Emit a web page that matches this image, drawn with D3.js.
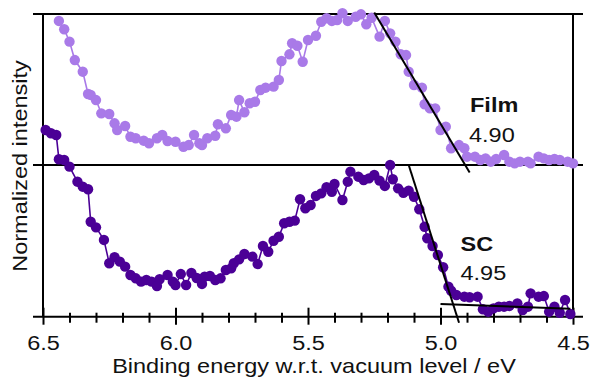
<!DOCTYPE html>
<html><head><meta charset="utf-8">
<script src="https://cdn.jsdelivr.net/npm/d3@7"></script>
<style>body{margin:0;background:#fff}svg{display:block}text{font-family:"Liberation Sans",Arial,sans-serif}</style>
</head><body>
<svg id="c" width="593" height="378"></svg>
<script>
// Film (top panel)
const filmE = [6.44,6.42,6.40,6.38,6.35,6.33,6.32,6.30,6.28,6.25,6.23,6.22,6.19,6.17,6.15,6.12,6.10,6.07,6.05,6.03,6.00,5.97,5.95,5.93,5.91,5.90,5.88,5.85,5.84,5.81,5.79,5.77,5.76,5.74,5.72,5.70,5.68,5.66,5.63,5.61,5.60,5.57,5.56,5.54,5.52,5.50,5.47,5.45,5.43,5.41,5.39,5.37,5.35,5.32,5.30,5.28,5.26,5.23,5.21,5.19,5.17,5.15,5.13,5.12,5.10,5.07,5.06,5.04,5.02,5.00,4.98,4.96,4.93,4.91,4.90,4.87,4.85,4.83,4.81,4.79,4.76,4.74,4.72,4.70,4.67,4.66,4.63,4.61,4.59,4.57,4.55,4.52,4.50];
const filmI = [0.954,0.899,0.817,0.695,0.618,0.470,0.464,0.430,0.342,0.338,0.276,0.232,0.258,0.187,0.177,0.161,0.144,0.177,0.199,0.159,0.154,0.121,0.132,0.199,0.144,0.132,0.177,0.194,0.270,0.243,0.331,0.320,0.430,0.349,0.409,0.419,0.497,0.512,0.519,0.563,0.689,0.733,0.806,0.790,0.684,0.828,0.856,0.949,0.972,0.954,0.960,1.005,0.954,0.982,0.998,0.932,0.975,0.850,0.954,0.872,0.817,0.733,0.728,0.618,0.530,0.512,0.402,0.375,0.375,0.232,0.254,0.111,0.132,0.111,0.055,0.055,0.033,0.044,0.022,0.040,0.066,0.022,0.011,0.022,0.022,0.011,0.055,0.044,0.033,0.040,0.033,0.022,0.011];
// SC (bottom panel)
const scE = [6.49,6.47,6.45,6.44,6.42,6.40,6.37,6.35,6.33,6.32,6.30,6.27,6.25,6.23,6.21,6.19,6.17,6.15,6.13,6.11,6.09,6.07,6.06,6.03,6.01,6.00,5.98,5.96,5.94,5.92,5.90,5.89,5.87,5.85,5.83,5.81,5.79,5.78,5.76,5.74,5.71,5.69,5.67,5.65,5.63,5.61,5.59,5.57,5.55,5.53,5.51,5.49,5.47,5.45,5.43,5.41,5.40,5.37,5.35,5.34,5.31,5.29,5.27,5.25,5.23,5.21,5.19,5.18,5.16,5.14,5.12,5.10,5.08,5.06,5.05,5.03,5.01,4.99,4.97,4.96,4.94,4.91,4.89,4.86,4.84,4.82,4.80,4.78,4.76,4.74,4.71,4.69,4.67,4.66,4.63,4.61,4.59,4.57,4.55,4.53,4.51];
const scI = [1.231,1.209,1.198,1.038,1.033,0.989,0.890,0.857,0.840,0.626,0.589,0.506,0.352,0.392,0.363,0.330,0.275,0.253,0.231,0.242,0.231,0.202,0.247,0.275,0.231,0.209,0.281,0.209,0.288,0.255,0.216,0.264,0.268,0.242,0.253,0.308,0.319,0.352,0.378,0.413,0.396,0.347,0.466,0.428,0.501,0.527,0.616,0.626,0.633,0.774,0.715,0.736,0.796,0.813,0.853,0.824,0.875,0.769,0.890,0.956,0.923,0.901,0.912,0.934,0.897,0.862,1.000,0.906,0.846,0.817,0.831,0.791,0.708,0.593,0.517,0.466,0.407,0.326,0.198,0.171,0.143,0.132,0.128,0.132,0.049,0.033,0.055,0.066,0.066,0.071,0.088,0.044,0.066,0.154,0.132,0.136,0.033,0.066,0.026,0.110,0.018];
// Linear fits
const filmFitE = [5.25, 4.89], filmFitI = [1.01, -0.05];
const scFitE = [5.12, 4.93], scFitI = [1.00, -0.04];
const scBaseE = [5.00, 4.51], scBaseI = [0.084, 0.053];
const majorTicks = [6.5, 6.0, 5.5, 5.0, 4.5];
const tickLabels = ["6.5", "6.0", "5.5", "5.0", "4.5"];
const labels = [{name: "Film", value: "4.90"}, {name: "SC", value: "4.95"}];
const xTitle = "Binding energy w.r.t. vacuum level / eV";
const yTitle = "Normalized intensity";

const svg = d3.select("#c");
const L = 43, R = 573, T = 14, M = 165, B = 316.7;
const x = d3.scaleLinear().domain([6.5, 4.5]).range([L, R]);
const yTop = d3.scaleLinear().domain([0, 1]).range([M, T]);
const yBot = d3.scaleLinear().domain([0, 1]).range([B, M]);
const filmCol = "#a97ae8", scCol = "#4b0096";
const SX = 1.12;

// frame
[T, M, B].forEach(v => svg.append("line").attr("x1", 33).attr("x2", 583).attr("y1", v).attr("y2", v)
  .attr("stroke", "#000").attr("stroke-width", 2));
[L, R].forEach(v => svg.append("line").attr("x1", v).attr("x2", v).attr("y1", T).attr("y2", B)
  .attr("stroke", "#000").attr("stroke-width", 2));

// axis ticks
const minor = x.ticks(20).filter(t => !majorTicks.some(m => Math.abs(m - t) < 1e-6));
const gOutMin = svg.append("g").attr("transform", `translate(0,${B})`)
  .call(d3.axisBottom(x).tickValues(minor).tickSize(6).tickSizeOuter(0).tickFormat(""));
const gInMin = svg.append("g").attr("transform", `translate(0,${B})`)
  .call(d3.axisBottom(x).tickValues(minor).tickSize(-4).tickSizeOuter(0).tickFormat(""));
const gInMaj = svg.append("g").attr("transform", `translate(0,${B})`)
  .call(d3.axisBottom(x).tickValues(majorTicks).tickSize(-9).tickSizeOuter(0).tickFormat(""));
const gMaj = svg.append("g").attr("transform", `translate(0,${B})`)
  .call(d3.axisBottom(x).tickValues(majorTicks).tickSize(8).tickSizeOuter(0).tickPadding(10)
    .tickFormat((d, i) => tickLabels[i]));
[gOutMin, gInMin, gInMaj, gMaj].forEach(g => {
  g.select(".domain").remove();
  g.selectAll("line").attr("stroke", "#000").attr("stroke-width", 2);
});
gMaj.selectAll("text").attr("font-size", 21).attr("fill", "#111")
  .attr("font-family", '"Liberation Sans",Arial,sans-serif')
  .attr("transform", `scale(${SX},1)`);

// series
function series(E, I, y, col) {
  const pts = E.map((e, i) => [x(e), y(I[i])]);
  svg.append("path").attr("d", d3.line()(pts)).attr("fill", "none").attr("stroke", col).attr("stroke-width", 1.6);
  svg.append("g").selectAll("circle").data(pts).join("circle")
    .attr("cx", d => d[0]).attr("cy", d => d[1]).attr("r", 5.2).attr("fill", col);
}
series(filmE, filmI, yTop, filmCol);
series(scE, scI, yBot, scCol);

function fit(E, I, y) {
  svg.append("path").attr("d", d3.line()(E.map((e, i) => [x(e), y(I[i])])))
    .attr("stroke", "#000").attr("stroke-width", 2).attr("fill", "none");
}
fit(filmFitE, filmFitI, yTop);
fit(scFitE, scFitI, yBot);
fit(scBaseE, scBaseI, yBot);

// labels
function label(tx, ty, txt, bold) {
  svg.append("text").attr("transform", `translate(${tx},${ty}) scale(${SX},1)`)
    .attr("font-size", 21).attr("font-weight", bold ? "bold" : "normal").attr("fill", "#111").text(txt);
}
label(470, 112, labels[0].name, true);
label(469, 141.5, labels[0].value, false);
label(460.5, 251, labels[1].name, true);
label(460.5, 280, labels[1].value, false);

svg.append("text").attr("transform", `translate(314,373) scale(${SX},1)`).attr("text-anchor", "middle")
  .attr("font-size", 21).attr("fill", "#111").text(xTitle);
svg.append("text").attr("transform", `translate(27,166) rotate(-90) scale(${SX},1)`).attr("text-anchor", "middle")
  .attr("font-size", 21).attr("fill", "#111").text(yTitle);
</script>
</body></html>
